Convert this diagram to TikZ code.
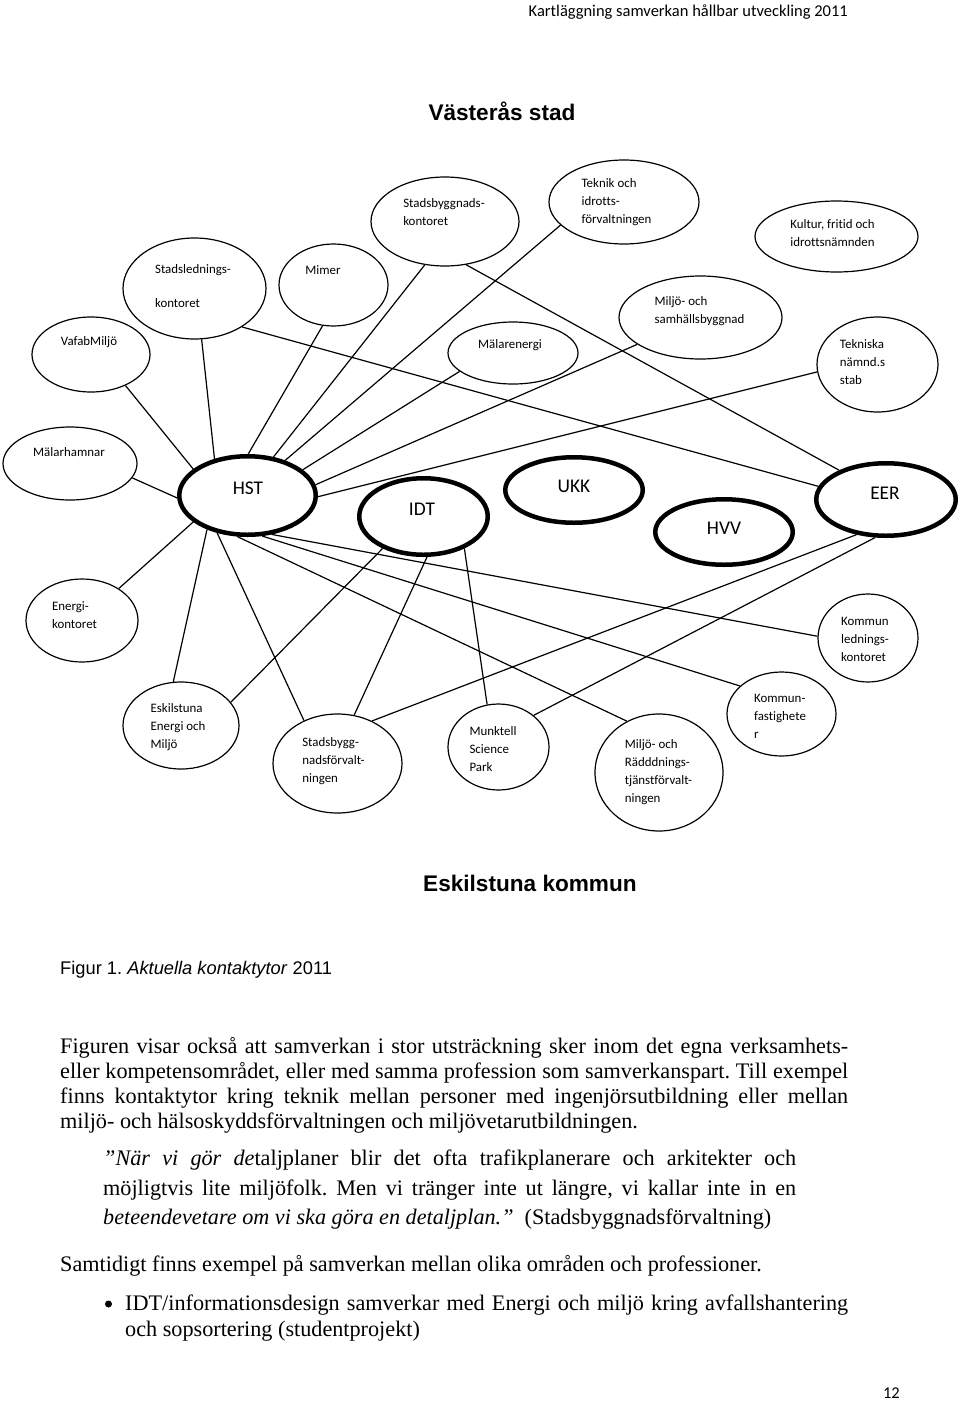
\documentclass[tikz,border=0pt]{standalone}
\usepackage{fontspec}
\setmainfont[Ligatures=NoCommon]{Liberation Serif}
\newfontfamily\carlito[Ligatures=NoCommon]{Carlito}
\newfontfamily\arial[Ligatures=NoCommon]{Liberation Sans}
\usetikzlibrary{shapes.geometric}
\frenchspacing

\tikzset{
  org/.style={draw, ellipse, line width=1.2pt, inner sep=0pt},
  hub/.style={org, line width=4.5pt},
  lbl/.style={font=\carlito\fontsize{12.9}{18}\selectfont, align=left, inner sep=0pt},
  hublbl/.style={font=\carlito\fontsize{19.4}{22}\selectfont, inner sep=0pt},
  title/.style={font=\arial\bfseries\fontsize{22.6}{26}\selectfont, inner sep=0pt},
  body/.style={font=\fontsize{22.2}{25}\selectfont, inner sep=0pt, anchor=base west},
}

\begin{document}
\begin{tikzpicture}[x=1pt, y=-1pt]
  \fill[white] (0,0) rectangle (960,1403);
  \useasboundingbox (0,0) rectangle (960,1403);

  % page head
  \node[font=\carlito\fontsize{16.5}{19}\selectfont, inner sep=0pt, anchor=base east] (head) at (848,16) {Kartläggning samverkan hållbar utveckling 2011};
  \node[title, anchor=base] (vasteras) at (502,120) {Västerås stad};

  % Västerås side
  \node[org, minimum width=143, minimum height=101] (stadsled) at (194.5,288.5) {};
  \node[org, minimum width=109, minimum height=82] (mimer) at (333.5,285) {};
  \node[org, minimum width=148, minimum height=89] (sbk) at (445,221.5) {};
  \node[org, minimum width=118, minimum height=75] (vafab) at (91,354.5) {};
  \node[org, minimum width=150, minimum height=84] (teknik) at (624,202) {};
  \node[org, minimum width=163, minimum height=71] (kultur) at (836.5,236.5) {};
  \node[org, minimum width=163, minimum height=83] (miljosamh) at (700.5,317.5) {};
  \node[org, minimum width=130, minimum height=62] (malarenergi) at (513,353) {};
  \node[org, minimum width=121, minimum height=95] (tekniska) at (877.5,364.5) {};
  \node[org, minimum width=134, minimum height=73] (malarhamnar) at (70,463.5) {};

  \node[lbl] (stadsled-l) at (193,286) {Stadslednings-\\[16pt]kontoret};
  \node[lbl] (mimer-l) at (323,270) {Mimer};
  \node[lbl] (sbk-l) at (444,212) {Stadsbyggnads-\\kontoret};
  \node[lbl] (vafab-l) at (89,342) {VafabMiljö};
  \node[lbl] (teknik-l) at (616.5,202) {Teknik och\\idrotts-\\förvaltningen};
  \node[lbl] (kultur-l) at (832.5,233.5) {Kultur, fritid och\\idrottsnämnden};
  \node[lbl] (miljosamh-l) at (699.5,311) {Miljö- och\\samhällsbyggnad};
  \node[lbl] (malarenergi-l) at (510,345) {Mälarenergi};
  \node[lbl] (tekniska-l) at (862.5,362) {Tekniska\\nämnd.s\\stab};
  \node[lbl] (malarhamnar-l) at (69,452) {Mälarhamnar};

  % the five units
  \node[hub, minimum width=136.5, minimum height=78.5] (hst) at (247.5,495.5) {};
  \node[hub, minimum width=128.5, minimum height=76.5] (idt) at (423.5,516.5) {};
  \node[hub, minimum width=137.5, minimum height=65.5] (ukk) at (574,490) {};
  \node[hub, minimum width=137.5, minimum height=65.5] (hvv) at (724,532) {};
  \node[hub, minimum width=139.5, minimum height=72.5] (eer) at (886,499.5) {};
  \node[hublbl] (hst-l) at (248,488) {HST};
  \node[hublbl] (idt-l) at (422,509) {IDT};
  \node[hublbl] (ukk-l) at (574,486) {UKK};
  \node[hublbl] (hvv-l) at (724,528) {HVV};
  \node[hublbl] (eer-l) at (885,493) {EER};

  % Eskilstuna side
  \node[org, minimum width=112, minimum height=83] (energikont) at (82,620.5) {};
  \node[org, minimum width=100, minimum height=88] (kled) at (868,638) {};
  \node[org, minimum width=116, minimum height=87] (eskenergi) at (181,725.5) {};
  \node[org, minimum width=129, minimum height=99] (sbf) at (337.5,763.5) {};
  \node[org, minimum width=101, minimum height=86] (munktell) at (498.5,747) {};
  \node[org, minimum width=128, minimum height=117] (miljorad) at (659,772.5) {};
  \node[org, minimum width=109, minimum height=84] (kfast) at (781.5,714) {};

  \node[lbl] (energikont-l) at (74.5,615) {Energi-\\kontoret};
  \node[lbl] (kled-l) at (865,639.5) {Kommun\\lednings-\\kontoret};
  \node[lbl] (eskenergi-l) at (178,727) {Eskilstuna\\Energi och\\Miljö};
  \node[lbl] (sbf-l) at (333.5,761) {Stadsbygg-\\nadsförvalt-\\ningen};
  \node[lbl] (munktell-l) at (493,749) {Munktell\\Science\\Park};
  \node[lbl] (miljorad-l) at (658.5,772.5) {Miljö- och\\Rädddnings-\\tjänstförvalt-\\ningen};
  \node[lbl] (kfast-l) at (780,716.5) {Kommun-\\fastighete\\r};

  \node[title, anchor=base west] (eskilstuna) at (423,891) {Eskilstuna kommun};

  % contacts of HST
  \path[line width=1.2pt]
    (vafab.-42) edge (hst.154)
    (stadsled.-82) edge (hst.132)
    (mimer.-105) edge (hst.89)
    (sbk.-115) edge (hst.56)
    (teknik.-160) edge (hst.43)
    (malarenergi.-161) edge (hst.25)
    (miljosamh.-157) edge (hst.9)
    (tekniska.-173) edge (hst.-1)
    (malarhamnar.-13) edge (hst.-178)
    (energikont.41) edge (hst.-154)
    (eskenergi.100) edge (hst.-140)
    (sbf.128) edge (hst.-129)
    (miljorad.122) edge (hst.-104)
    (kfast.146) edge (hst.-70)
    (kled.178) edge (hst.-58);
  % contacts of EER and IDT
  \path[line width=1.2pt]
    (stadsled.-39) edge (eer.169)
    (sbk.-64) edge (eer.148)
    (sbf.51) edge (eer.-130)
    (munktell.42) edge (eer.-106)
    (eskenergi.25) edge (idt.-142)
    (sbf.71) edge (idt.-85)
    (munktell.105) edge (idt.-38);

  % caption and text
  \node[font=\arial\fontsize{18.3}{22}\selectfont, inner sep=0pt, anchor=base west] (caption) at (60,974) {Figur 1. \textit{Aktuella kontaktytor} 2011};

  \node[body] (p1) at (60,1053) {\makebox[788pt][s]{Figuren visar också att samverkan i stor utsträckning sker inom det egna verksamhets-}};
  \node[body] (p2) at (60,1078) {\makebox[788pt][s]{eller kompetensområdet, eller med samma profession som samverkanspart. Till exempel}};
  \node[body] (p3) at (60,1103) {\makebox[788pt][s]{finns kontaktytor kring teknik mellan personer med ingenjörsutbildning eller mellan}};
  \node[body] (p4) at (60,1128) {miljö- och hälsoskyddsförvaltningen och miljövetarutbildningen.};

  \node[body] (q1) at (103,1165) {\makebox[693pt][s]{\itshape ”När vi gör de\upshape taljplaner blir det ofta trafikplanerare och arkitekter och}};
  \node[body] (q2) at (103,1195) {\makebox[693pt][s]{möjligtvis lite miljöfolk. Men vi tränger inte ut längre, vi kallar inte in en}};
  \node[body] (q3) at (103,1224) {\textit{beteendevetare om vi ska göra en detaljplan.”}\ \ (Stadsbyggnadsförvaltning)};

  \node[body] (s1) at (60,1271) {Samtidigt finns exempel på samverkan mellan olika områden och professioner.};

  \node[circle, fill, inner sep=0pt, minimum size=7] (bullet) at (108.5,1304) {};
  \node[body] (b1) at (125,1310) {\makebox[723pt][s]{IDT/informationsdesign samverkar med Energi och miljö kring avfallshantering}};
  \node[body] (b2) at (125,1336) {och sopsortering (studentprojekt)};

  \node[font=\carlito\fontsize{16.5}{19}\selectfont, inner sep=0pt, anchor=base east] (pageno) at (900,1398) {12};
\end{tikzpicture}
\end{document}
